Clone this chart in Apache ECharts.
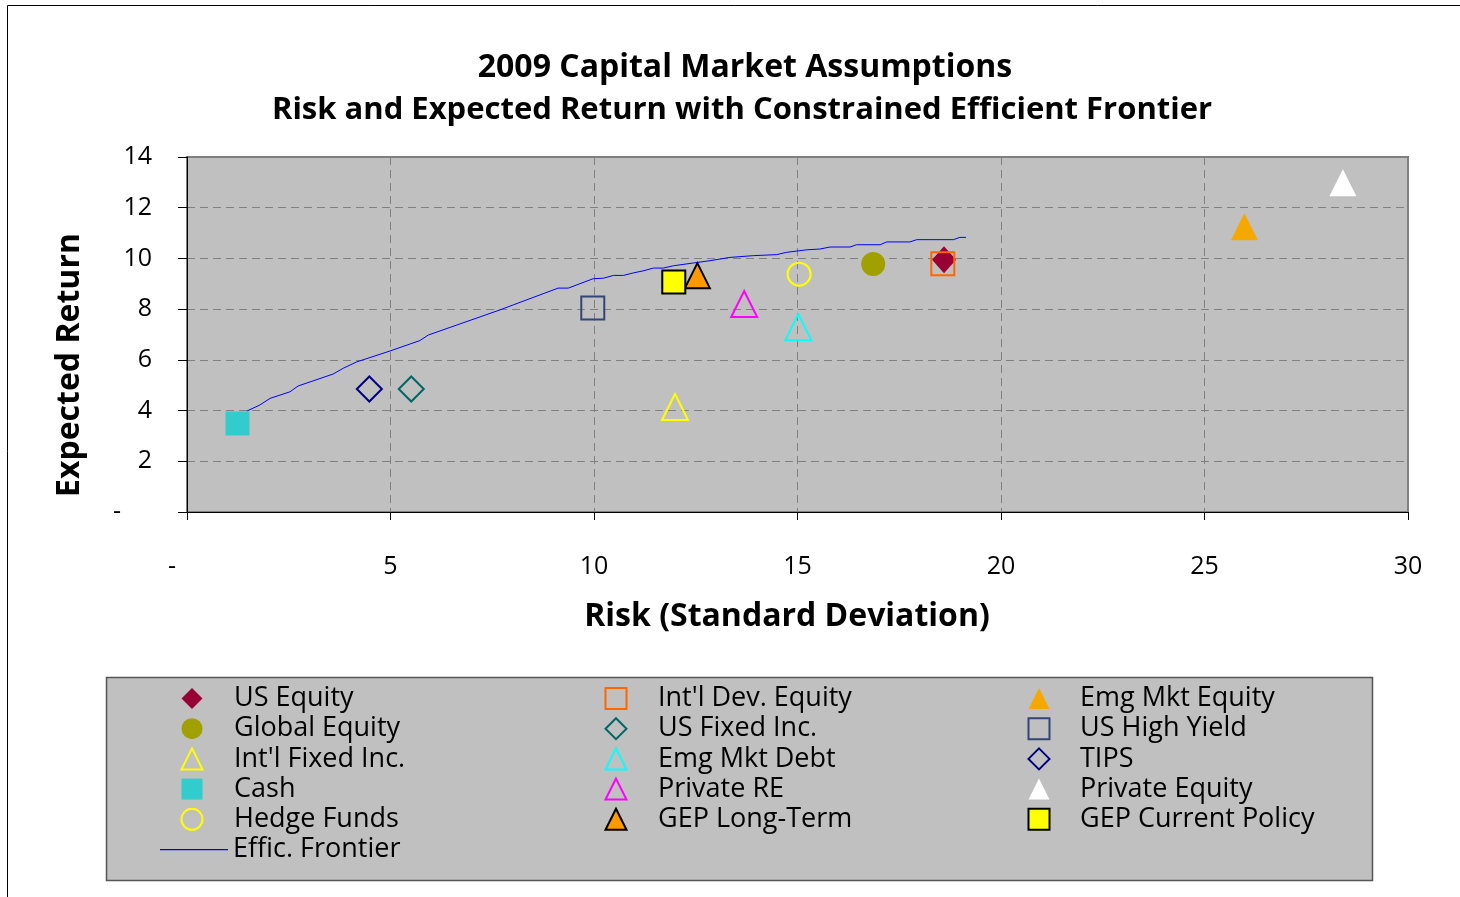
<!DOCTYPE html>
<html>
<head>
<meta charset="utf-8">
<script src="https://cdn.jsdelivr.net/npm/echarts@6/dist/echarts.min.js"></script>
<style>
html,body{margin:0;padding:0;background:#fff;}
#c{width:1460px;height:897px;}
</style>
</head>
<body>
<div id="c"></div>
<script>
// ---- data ----
const assetNames = ['US Equity','Int\'l Dev. Equity','Emg Mkt Equity','Global Equity','US Fixed Inc.','US High Yield','Int\'l Fixed Inc.','Emg Mkt Debt','TIPS','Cash','Private RE','Private Equity','Hedge Funds','GEP Long-Term','GEP Current Policy'];
const assetRisk   = [18.6, 18.57, 25.98, 16.86, 5.51, 9.97, 11.99, 15.02, 4.48, 1.24, 13.69, 28.4, 15.04, 12.54, 11.96];
const assetReturn = [9.95, 9.79, 11.25, 9.78, 4.85, 8.05, 4.14, 7.29, 4.85, 3.49, 8.2, 12.98, 9.38, 9.32, 9.07];
const frontierName = 'Effic. Frontier';
const frontierRisk   = [1.47,1.79,2.04,2.53,2.73,3.59,3.84,4.17,4.99,5.72,5.93,7.69,8.02,9.12,9.37,9.98,10.23,10.48,10.72,10.97,11.21,11.46,11.7,11.95,12.44,12.85,13.34,13.92,14.49,14.73,15.23,15.55,15.8,16.29,16.45,17.03,17.19,17.76,17.93,18.83,18.99,19.14];
const frontierReturn = [3.98,4.22,4.48,4.74,4.97,5.44,5.67,5.92,6.35,6.76,6.98,7.97,8.17,8.83,8.83,9.2,9.22,9.33,9.33,9.43,9.51,9.62,9.62,9.71,9.82,9.91,10.04,10.11,10.15,10.24,10.34,10.37,10.45,10.45,10.54,10.54,10.65,10.65,10.74,10.74,10.83,10.83];
const xTicks = [0,5,10,15,20,25,30];
const yTicks = [0,2,4,6,8,10,12,14];
const titleLines = ['2009 Capital Market Assumptions','Risk and Expected Return with Constrained Efficient Frontier'];
const xName = 'Risk (Standard Deviation)';
const yName = 'Expected Return';

// ---- styles (per asset, same order) ----
const styles = [
  {symbol:'diamond', size:[24,27], color:'#990033', border:null},
  {symbol:'rect', size:23, color:'transparent', border:'#ff6600', bw:2},
  {symbol:'triangle', size:27, color:'#f5a800', border:null},
  {symbol:'circle', size:24, color:'#a0a000', border:null},
  {symbol:'diamond', size:25, color:'transparent', border:'#006666', bw:2},
  {symbol:'rect', size:23, color:'transparent', border:'#334477', bw:2},
  {symbol:'triangle', size:26, color:'transparent', border:'#ffff00', bw:2},
  {symbol:'triangle', size:26, color:'transparent', border:'#00ffff', bw:2},
  {symbol:'diamond', size:25, color:'transparent', border:'#000080', bw:2},
  {symbol:'rect', size:24, color:'#33cccc', border:null},
  {symbol:'triangle', size:26, color:'transparent', border:'#ff00ff', bw:2},
  {symbol:'triangle', size:27, color:'#ffffff', border:null},
  {symbol:'circle', size:23, color:'transparent', border:'#ffff00', bw:2},
  {symbol:'triangle', size:25, color:'#ff9900', border:'#000000', bw:2},
  {symbol:'rect', size:23, color:'#ffff00', border:'#000000', bw:2}
];

const FONT = 'Open Sans';
const series = assetNames.map((n,i)=>{
  const s = styles[i];
  const is = {color:s.color, opacity:1};
  if (s.border) { is.borderColor = s.border; is.borderWidth = s.bw; } else { is.borderWidth = 0; }
  return {
    name:n, type:'scatter', symbol:s.symbol, symbolSize:s.size,
    data:[[assetRisk[i], assetReturn[i]]],
    itemStyle:is, emphasis:{disabled:true}, z:3
  };
});
series.push({
  name:frontierName, type:'line', symbol:'none', showSymbol:false,
  data: frontierRisk.map((x,i)=>[x, frontierReturn[i]]),
  lineStyle:{color:'#0000ff', width:1}, itemStyle:{color:'#0000ff'}, z:2
});

const col1 = [assetNames[0],assetNames[3],assetNames[6],assetNames[9],assetNames[12]];
const col2 = [assetNames[1],assetNames[4],assetNames[7],assetNames[10],assetNames[13]];
const col3 = [assetNames[2],assetNames[5],assetNames[8],assetNames[11],assetNames[14]];
function leg(data,left,top,pad){
  return {data, orient:'vertical', left, top, itemWidth:21, itemHeight:21, itemGap:3.2,
    textStyle:{fontFamily:FONT, fontSize:27, color:'#000', padding:[0,0,0,pad]}, selectedMode:false, padding:0};
}

const chart = echarts.init(document.getElementById('c'), null, {renderer:'canvas'});
chart.setOption({
  animation:false,
  backgroundColor:'#ffffff',
  grid:{left:187, right:52, top:157, bottom:385, show:true, backgroundColor:'#c0c0c0', borderColor:'#808080', borderWidth:2},
  xAxis:{type:'value', min:0, max:30, interval:5,
    axisLine:{show:true, onZero:false, lineStyle:{color:'#000', width:1}},
    axisTick:{show:true, length:8, lineStyle:{color:'#000'}},
    axisLabel:{margin:42, fontFamily:FONT, fontSize:25, color:'#000',
      formatter:v=> v===0 ? '{z|-}' : String(v),
      rich:{z:{fontFamily:FONT, fontSize:25, color:'#000', padding:[0,30,0,0]}}},
    splitLine:{show:true, lineStyle:{color:'#808080', type:[8,5], width:1}}
  },
  yAxis:{type:'value', min:0, max:14, interval:2,
    axisLine:{show:true, onZero:false, lineStyle:{color:'#000', width:1}},
    axisTick:{show:true, length:9, lineStyle:{color:'#000'}},
    axisLabel:{margin:35, fontFamily:FONT, fontSize:25, color:'#000',
      formatter:v=> v===0 ? '{z|-}' : String(v),
      rich:{z:{fontFamily:FONT, fontSize:25, color:'#000', padding:[0,31,0,0]}}},
    splitLine:{show:true, lineStyle:{color:'#808080', type:[8,5], width:1}}
  },
  legend:[
    leg(col1,180.5,685,26.5),
    leg(col2,604.5,685,26.5),
    leg(col3,1027.5,685,25.5),
    {data:[{name:frontierName, icon:'path://M0,0 L0,0 M0,10 L68,10 L68,11.3 L0,11.3 Z M0,21 L0,21'}], orient:'vertical', left:160, top:836, itemWidth:68, itemHeight:21,
      textStyle:{fontFamily:FONT, fontSize:27, color:'#000'}, selectedMode:false, padding:0}
  ],
  graphic:[
    {type:'rect', shape:{x:7.5,y:5.5,width:1600,height:1000}, style:{fill:'none', stroke:'#000', lineWidth:1}, z:-10, silent:true},
    {type:'rect', shape:{x:106.5,y:677.5,width:1266,height:203}, style:{fill:'#c0c0c0', stroke:'#555', lineWidth:1.5}, z:-5, silent:true},
    {type:'text', x:745, y:68, style:{text:titleLines[0], font:'bold 32px '+FONT, fill:'#000', textAlign:'center', textVerticalAlign:'middle'}},
    {type:'text', x:742, y:110, style:{text:titleLines[1], font:'bold 31px '+FONT, fill:'#000', textAlign:'center', textVerticalAlign:'middle'}},
    {type:'text', x:787, y:617, style:{text:xName, font:'bold 32px '+FONT, fill:'#000', textAlign:'center', textVerticalAlign:'middle'}},
    {type:'text', x:70, y:365, rotation:Math.PI/2, style:{text:yName, font:'bold 32px '+FONT, fill:'#000', textAlign:'center', textVerticalAlign:'middle'}}
  ],
  series
});
</script>
</body>
</html>
